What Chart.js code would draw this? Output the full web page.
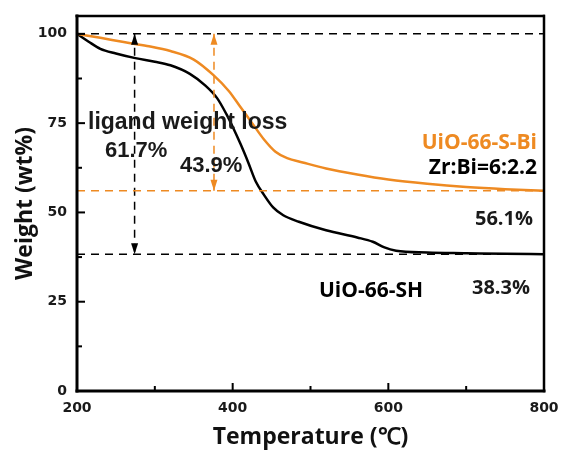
<!DOCTYPE html>
<html>
<head>
<meta charset="utf-8">
<script src="https://cdn.jsdelivr.net/npm/chart.js@4/dist/chart.umd.min.js"></script>
<style>
  body { margin: 0; background: #fff; }
  #wrap { width: 561px; height: 453px; }
</style>
</head>
<body>
<div id="wrap"><canvas id="tga" width="561" height="453"></canvas></div>
<script>
// TGA curves (temperature in C, weight in wt%)
const bi_T = [200, 230, 260, 290, 320, 350, 375, 395, 410, 425, 440, 455, 470, 490, 520, 560, 600, 650, 700, 750, 800];
const bi_W = [100, 98.9, 97.7, 96.6, 95.2, 92.8, 88.5, 84, 79.5, 75, 70.5, 67, 65.2, 64, 62.3, 60.6, 59.2, 58, 57.1, 56.5, 56.1];

const sh_T = [200, 215, 230, 250, 275, 300, 320, 345, 365, 380, 392, 400, 410, 420, 430, 440, 452, 465, 485, 520, 560, 580, 595, 610, 650, 700, 750, 800];
const sh_W = [100, 97.8, 95.8, 94.5, 93.2, 92.2, 91.2, 88.8, 85.5, 82, 77.5, 74, 69.2, 64, 58.5, 55, 51.4, 49.2, 47.4, 45, 43, 41.8, 40.2, 39.3, 38.8, 38.6, 38.4, 38.3];

// reference levels and arrow positions
const startLevel = 100;
const biResidue = 56.1;
const shResidue = 38.3;
const shArrowT = 274;
const biArrowT = 376;

const xTicks = [200, 400, 600, 800];
const xMinor = [300, 500, 700];
const yTicks = [0, 25, 50, 75, 100];
const yMinor = [12.5, 37.5, 62.5, 87.5];

const orange = "#ee8a22";
const tickFont = { family: "'DejaVu Sans'", size: 14, weight: "bold" };
const titleFont = { family: "'Open Sans'", size: 23, weight: "bold" };

const pts = (xs, ys) => xs.map((x, i) => ({ x: x, y: ys[i] }));

function dashed(data, color, arrows) {
    return {
        data: data,
        borderColor: color,
        borderWidth: 1.5,
        borderDash: [8, 6],
        pointRadius: 0,
        tension: 0,
        arrows: arrows
    };
}

const framePlugin = {
    id: "frame",
    afterDraw(chart) {
        const c = chart.ctx;
        const a = chart.chartArea;
        const xs = chart.scales.x;
        const ys = chart.scales.y;
        c.save();

        // arrowheads on the vertical dashed lines
        chart.data.datasets.forEach((ds, i) => {
            if (!ds.arrows) return;
            const m = chart.getDatasetMeta(i).data;
            const p0 = m[0], p1 = m[m.length - 1];
            c.fillStyle = ds.borderColor;
            [[p0, -1], [p1, 1]].forEach(([p, dir]) => {
                c.beginPath();
                c.moveTo(p.x, p.y);
                c.lineTo(p.x - 3.5, p.y - dir * 11);
                c.lineTo(p.x + 3.5, p.y - dir * 11);
                c.closePath();
                c.fill();
            });
        });

        // frame (filled rects)
        c.fillStyle = "#000";
        const L = Math.round(a.left), R = Math.round(a.right), T = Math.round(a.top), B = Math.round(a.bottom);
        c.fillRect(L - 1.5, T - 1.5, 3, B - T + 3);
        c.fillRect(L - 1.5, B - 1.5, R - L + 3, 3);
        c.fillRect(L - 1.5, T - 1.25, R - L + 2.5, 2.5);
        c.fillRect(R - 1.25, T - 1.25, 2.5, B - T + 2.5);

        // inward ticks
        xTicks.forEach(v => { const x = xs.getPixelForValue(v); c.fillRect(x - 1, B - 8, 2, 8); });
        xMinor.forEach(v => { const x = xs.getPixelForValue(v); c.fillRect(x - 1, B - 5, 2, 5); });
        yTicks.forEach(v => { const y = ys.getPixelForValue(v); c.fillRect(L, y - 1, 8, 2); });
        yMinor.forEach(v => { const y = ys.getPixelForValue(v); c.fillRect(L, y - 1, 5, 2); });

        // annotations
        const txt = (s, x, y, font, color, align) => {
            c.font = font;
            c.fillStyle = color;
            c.textAlign = align || "left";
            c.textBaseline = "middle";
            c.fillText(s, x, y);
        };
        txt("ligand weight loss", 88, 123, "bold 23px 'Liberation Sans', Arial", "#1a1a1a");
        txt("61.7%", 105, 151, "bold 22px 'Liberation Sans', Arial", "#1a1a1a");
        txt("43.9%", 180, 166, "bold 22px 'Liberation Sans', Arial", "#1a1a1a");
        txt("UiO-66-S-Bi", 537, 143, "bold 21px 'Open Sans'", orange, "right");
        txt("Zr:Bi=6:2.2", 537, 168, "bold 21px 'Open Sans'", "#000", "right");
        txt("56.1%", 533, 219, "bold 20px 'Open Sans'", "#1a1a1a", "right");
        txt("UiO-66-SH", 319, 291, "bold 21px 'Open Sans'", "#000");
        txt("38.3%", 530, 288, "bold 20px 'Open Sans'", "#1a1a1a", "right");
        c.restore();
    }
};

new Chart(document.getElementById("tga"), {
    type: "line",
    data: {
        datasets: [
            dashed([{ x: 200, y: startLevel }, { x: 800, y: startLevel }], "#000"),
            dashed([{ x: 200, y: biResidue }, { x: 800, y: biResidue }], orange),
            dashed([{ x: 200, y: shResidue }, { x: 800, y: shResidue }], "#000"),
            dashed([{ x: shArrowT, y: startLevel }, { x: shArrowT, y: shResidue }], "#000", true),
            dashed([{ x: biArrowT, y: startLevel }, { x: biArrowT, y: biResidue }], orange, true),
            {
                label: "UiO-66-S-Bi",
                data: pts(bi_T, bi_W),
                borderColor: orange,
                borderWidth: 2.5,
                pointRadius: 0,
                cubicInterpolationMode: "monotone"
            },
            {
                label: "UiO-66-SH",
                data: pts(sh_T, sh_W),
                borderColor: "#000",
                borderWidth: 2.5,
                pointRadius: 0,
                cubicInterpolationMode: "monotone"
            }
        ]
    },
    options: {
        responsive: false,
        animation: false,
        layout: { padding: { top: 16, right: 17, left: 0, bottom: 0 } },
        plugins: { legend: { display: false }, tooltip: { enabled: false } },
        scales: {
            x: {
                type: "linear",
                min: 200,
                max: 800,
                afterBuildTicks: s => { s.ticks = xTicks.map(v => ({ value: v })); },
                afterFit: s => { s.height = 62; s.paddingLeft = 0; s.paddingRight = 0; },
                grid: { display: false, drawTicks: false },
                border: { display: false },
                ticks: { padding: 9, color: "#1a1a1a", font: tickFont },
                title: {
                    display: true,
                    text: "Temperature (℃)",
                    color: "#111",
                    padding: { top: 0, bottom: 2 },
                    font: titleFont
                }
            },
            y: {
                min: 0,
                max: 105,
                afterBuildTicks: s => { s.ticks = yTicks.map(v => ({ value: v })); },
                afterFit: s => { s.width = 77; s.paddingTop = 0; s.paddingBottom = 0; },
                grid: { display: false, drawTicks: false },
                border: { display: false },
                ticks: { padding: 10, color: "#1a1a1a", font: tickFont },
                title: {
                    display: true,
                    text: "Weight (wt%)",
                    color: "#111",
                    padding: { top: 12, bottom: 0 },
                    font: titleFont
                }
            }
        }
    },
    plugins: [framePlugin]
});
</script>
</body>
</html>
